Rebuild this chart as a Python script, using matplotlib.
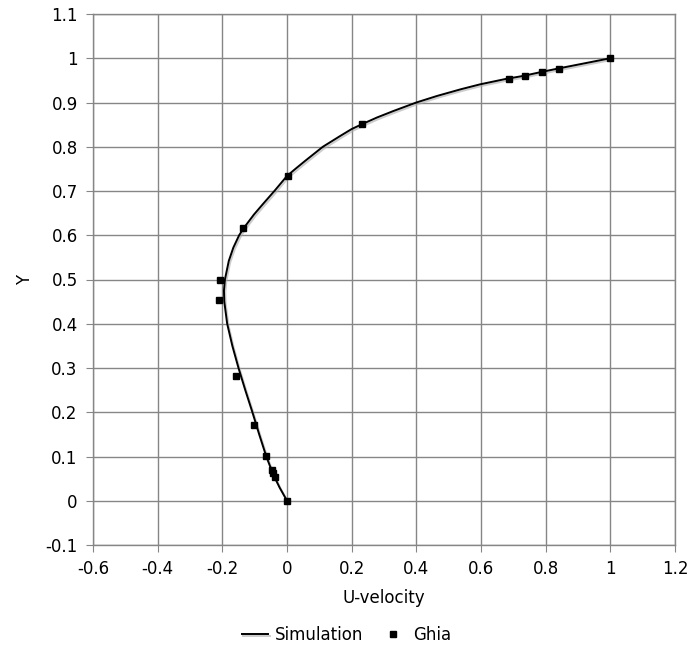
import matplotlib
matplotlib.use("Agg")
import matplotlib.pyplot as plt
import matplotlib.patheffects as pe

plt.rcParams['font.family'] = ['DejaVu Sans']
plt.rcParams['axes.unicode_minus'] = False

# Simulation profile
sim_y = [0.0, 0.03, 0.06, 0.1, 0.15, 0.2, 0.25, 0.3, 0.35, 0.4, 0.45, 0.475, 0.5,
         0.542, 0.572, 0.6, 0.617, 0.647, 0.670, 0.7, 0.734, 0.75, 0.768, 0.8, 0.825,
         0.84, 0.851, 0.866, 0.881, 0.9, 0.915, 0.93, 0.941, 0.953, 0.96, 0.969,
         0.977, 1.0]
sim_u = [0.0, -0.023, -0.043, -0.064, -0.086, -0.107, -0.129, -0.150, -0.169, -0.185,
         -0.194, -0.195, -0.192, -0.180, -0.166, -0.148, -0.133, -0.102, -0.075, -0.039,
         0.0, 0.026, 0.056, 0.111, 0.166, 0.200, 0.232, 0.278, 0.330, 0.400, 0.465,
         0.538, 0.597, 0.675, 0.730, 0.787, 0.840, 1.0]

# Ghia et al. reference data
ghia_y = [1.0000, 0.9766, 0.9688, 0.9609, 0.9531, 0.8516, 0.7344, 0.6172, 0.5000,
          0.4531, 0.2813, 0.1719, 0.1016, 0.0703, 0.0625, 0.0547, 0.0000]
ghia_u = [1.00000, 0.84123, 0.78871, 0.73722, 0.68717, 0.23151, 0.00332, -0.13641,
          -0.20581, -0.21090, -0.15662, -0.10150, -0.06434, -0.04775, -0.04192,
          -0.03717, 0.00000]

x_ticks = [-0.6, -0.4, -0.2, 0, 0.2, 0.4, 0.6, 0.8, 1, 1.2]
y_ticks = [-0.1, 0, 0.1, 0.2, 0.3, 0.4, 0.5, 0.6, 0.7, 0.8, 0.9, 1, 1.1]

fig = plt.figure(figsize=(6.93, 6.57), dpi=100)
ax = fig.add_axes([93/693, 1-545/657, (675-93)/693, (545-14)/657])

grid_c = '#868686'
ax.set_xlim(-0.6, 1.2)
ax.set_ylim(-0.1, 1.1)
ax.set_xticks(x_ticks)
ax.set_yticks(y_ticks)
ax.set_xticklabels([f"{v:g}" for v in x_ticks])
ax.set_yticklabels([f"{v:g}" for v in y_ticks])
ax.grid(True, color=grid_c, linewidth=1.0)
ax.set_axisbelow(True)
for s in ax.spines.values():
    s.set_color(grid_c)
    s.set_linewidth(1.0)
ax.tick_params(direction='out', length=5, color=grid_c, labelsize=12, pad=6)

ax.plot(sim_u, sim_y, color='black', linewidth=1.4, label='Simulation',
        solid_joinstyle='round',
        path_effects=[pe.SimpleLineShadow(offset=(1.0, -1.2), shadow_color='#aaaaaa', alpha=0.6),
                      pe.Normal()], zorder=3)
ax.plot(ghia_u, ghia_y, linestyle='none', marker='s', markersize=5.0, color='black',
        label='Ghia', zorder=4)

ax.set_xlabel('U-velocity', fontsize=12, labelpad=8)
ax.set_ylabel('Y', fontsize=12, labelpad=8)

fig.legend(loc='center', bbox_to_anchor=(0.5, 1-635/657), ncol=2, frameon=False,
           fontsize=12, handlelength=1.6, handletextpad=0.4, columnspacing=1.0,
           markerscale=0.8)

fig.savefig('out.png', dpi=100)
